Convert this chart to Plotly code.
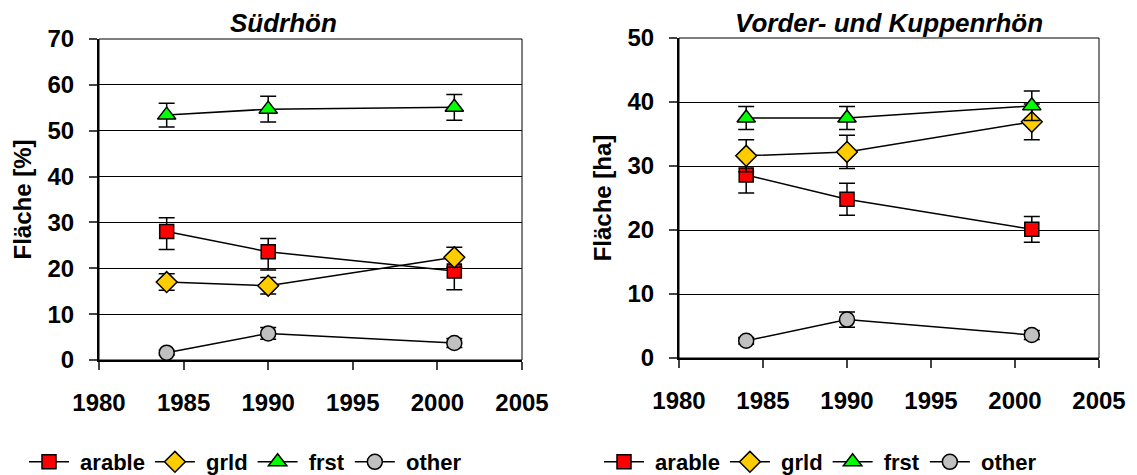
import plotly.graph_objects as go

years = [1984, 1990, 2001]
series = ["arable", "grld", "frst", "other"]

# Südrhön (%)
s_arable = [28.0, 23.6, 19.4]
s_arable_up = [3.0, 2.9, 3.0]
s_arable_dn = [3.9, 4.0, 4.1]
s_grld = [17.0, 16.2, 22.4]
s_grld_err = [1.8, 1.8, 2.2]
s_frst = [53.4, 54.7, 55.1]
s_frst_err = [2.6, 2.8, 2.8]
s_other = [1.6, 5.8, 3.7]
s_other_err = [0.5, 1.3, 1.0]

# Vorder- und Kuppenrhön (ha)
v_arable = [28.6, 24.8, 20.1]
v_arable_err = [2.8, 2.5, 2.0]
v_grld = [31.6, 32.2, 36.9]
v_grld_err = [2.5, 2.6, 2.8]
v_frst = [37.5, 37.5, 39.4]
v_frst_err = [1.8, 1.8, 2.3]
v_other = [2.7, 6.0, 3.6]
v_other_err = [0.5, 1.2, 0.7]

x_ticks = [1980, 1985, 1990, 1995, 2000, 2005]
left_y_ticks = [0, 10, 20, 30, 40, 50, 60, 70]
right_y_ticks = [0, 10, 20, 30, 40, 50]

colors = {"arable": "#FF0000", "grld": "#FFCC00", "frst": "#00FF00", "other": "#C0C0C0"}
symbols = {"arable": "square", "grld": "diamond", "frst": "triangle-up", "other": "circle"}
sizes = {"arable": 14, "grld": 16, "frst": 16, "other": 15}

FONT = "Liberation Sans, Arial, sans-serif"
W, H = 1137, 475
PAD = "\u00a0"

fig = go.Figure()

def add_series(name, y, up, dn, xa, ya, legend):
    fig.add_trace(go.Scatter(
        x=years, y=y, name=PAD + name, mode="lines+markers",
        xaxis=xa, yaxis=ya, legend=legend,
        line=dict(color="black", width=1.5),
        marker=dict(symbol=symbols[name], size=sizes[name], color=colors[name],
                    line=dict(color="black", width=1.5)),
        error_y=dict(type="data", array=up, arrayminus=dn, symmetric=False,
                     color="black", thickness=1.5, width=8),
    ))

add_series("arable", s_arable, s_arable_up, s_arable_dn, "x", "y", "legend")
add_series("grld", s_grld, s_grld_err, s_grld_err, "x", "y", "legend")
add_series("frst", s_frst, s_frst_err, s_frst_err, "x", "y", "legend")
add_series("other", s_other, s_other_err, s_other_err, "x", "y", "legend")

add_series("arable", v_arable, v_arable_err, v_arable_err, "x2", "y2", "legend2")
add_series("grld", v_grld, v_grld_err, v_grld_err, "x2", "y2", "legend2")
add_series("frst", v_frst, v_frst_err, v_frst_err, "x2", "y2", "legend2")
add_series("other", v_other, v_other_err, v_other_err, "x2", "y2", "legend2")

tickfont = dict(family=FONT, size=24, color="black", weight="bold")

def xaxis(domain, anchor):
    return dict(domain=domain, anchor=anchor, range=[1980, 2005], tickvals=x_ticks,
                showgrid=False, zeroline=False, showline=True, linecolor="black", linewidth=2,
                ticks="outside", ticklen=8, tickwidth=1.5, tickcolor="#444",
                tickfont=tickfont, ticklabelstandoff=12, automargin=False)

def yaxis(domain, anchor, rng, tv, title):
    return dict(domain=domain, anchor=anchor, range=rng, tickvals=tv,
                showgrid=True, gridcolor="black", gridwidth=1, zeroline=False,
                showline=True, linecolor="black", linewidth=2,
                ticks="outside", ticklen=8, tickwidth=1.5, tickcolor="#444",
                tickfont=tickfont, ticklabelstandoff=10, automargin=False,
                title=dict(text=title, font=dict(family=FONT, size=24, color="black", weight="bold"),
                           standoff=9))

lx = [99 / W, 522 / W]
rx = [679 / W, 1099 / W]
ly = [1 - 360 / H, 1 - 39 / H]
ry = [1 - 358 / H, 1 - 38 / H]

legfont = dict(family=FONT, size=22, color="black", weight="bold")

fig.update_layout(
    width=W, height=H,
    margin=dict(l=0, r=0, t=0, b=0, autoexpand=False),
    paper_bgcolor="white", plot_bgcolor="white",
    showlegend=True,
    xaxis=xaxis(lx, "y"),
    yaxis=yaxis(ly, "x", [0, 70], left_y_ticks, "Fläche [%]"),
    xaxis2=xaxis(rx, "y2"),
    yaxis2=yaxis(ry, "x2", [0, 50], right_y_ticks, "Fläche [ha]"),
    legend=dict(orientation="h", x=24 / W, y=1 - 462 / H, xanchor="left", yanchor="middle",
                font=legfont, bgcolor="rgba(0,0,0,0)", itemwidth=40, tracegroupgap=0),
    legend2=dict(orientation="h", x=599 / W, y=1 - 462 / H, xanchor="left", yanchor="middle",
                 font=legfont, bgcolor="rgba(0,0,0,0)", itemwidth=40, tracegroupgap=0),
    annotations=[
        dict(text="Südrhön", x=283 / W, y=1 - 23 / H, xref="paper", yref="paper",
             showarrow=False, xanchor="center", yanchor="middle",
             font=dict(family=FONT, size=26, color="black", weight="bold", style="italic")),
        dict(text="Vorder- und Kuppenrhön", x=889 / W, y=1 - 23 / H, xref="paper", yref="paper",
             showarrow=False, xanchor="center", yanchor="middle",
             font=dict(family=FONT, size=26, color="black", weight="bold", style="italic")),
    ],
    shapes=[
        dict(type="rect", xref="x domain", yref="y domain", x0=0, x1=1, y0=0, y1=1,
             line=dict(color="black", width=1), layer="below"),
        dict(type="rect", xref="x2 domain", yref="y2 domain", x0=0, x1=1, y0=0, y1=1,
             line=dict(color="black", width=1), layer="below"),
    ],
)

fig.write_html("out.html")
